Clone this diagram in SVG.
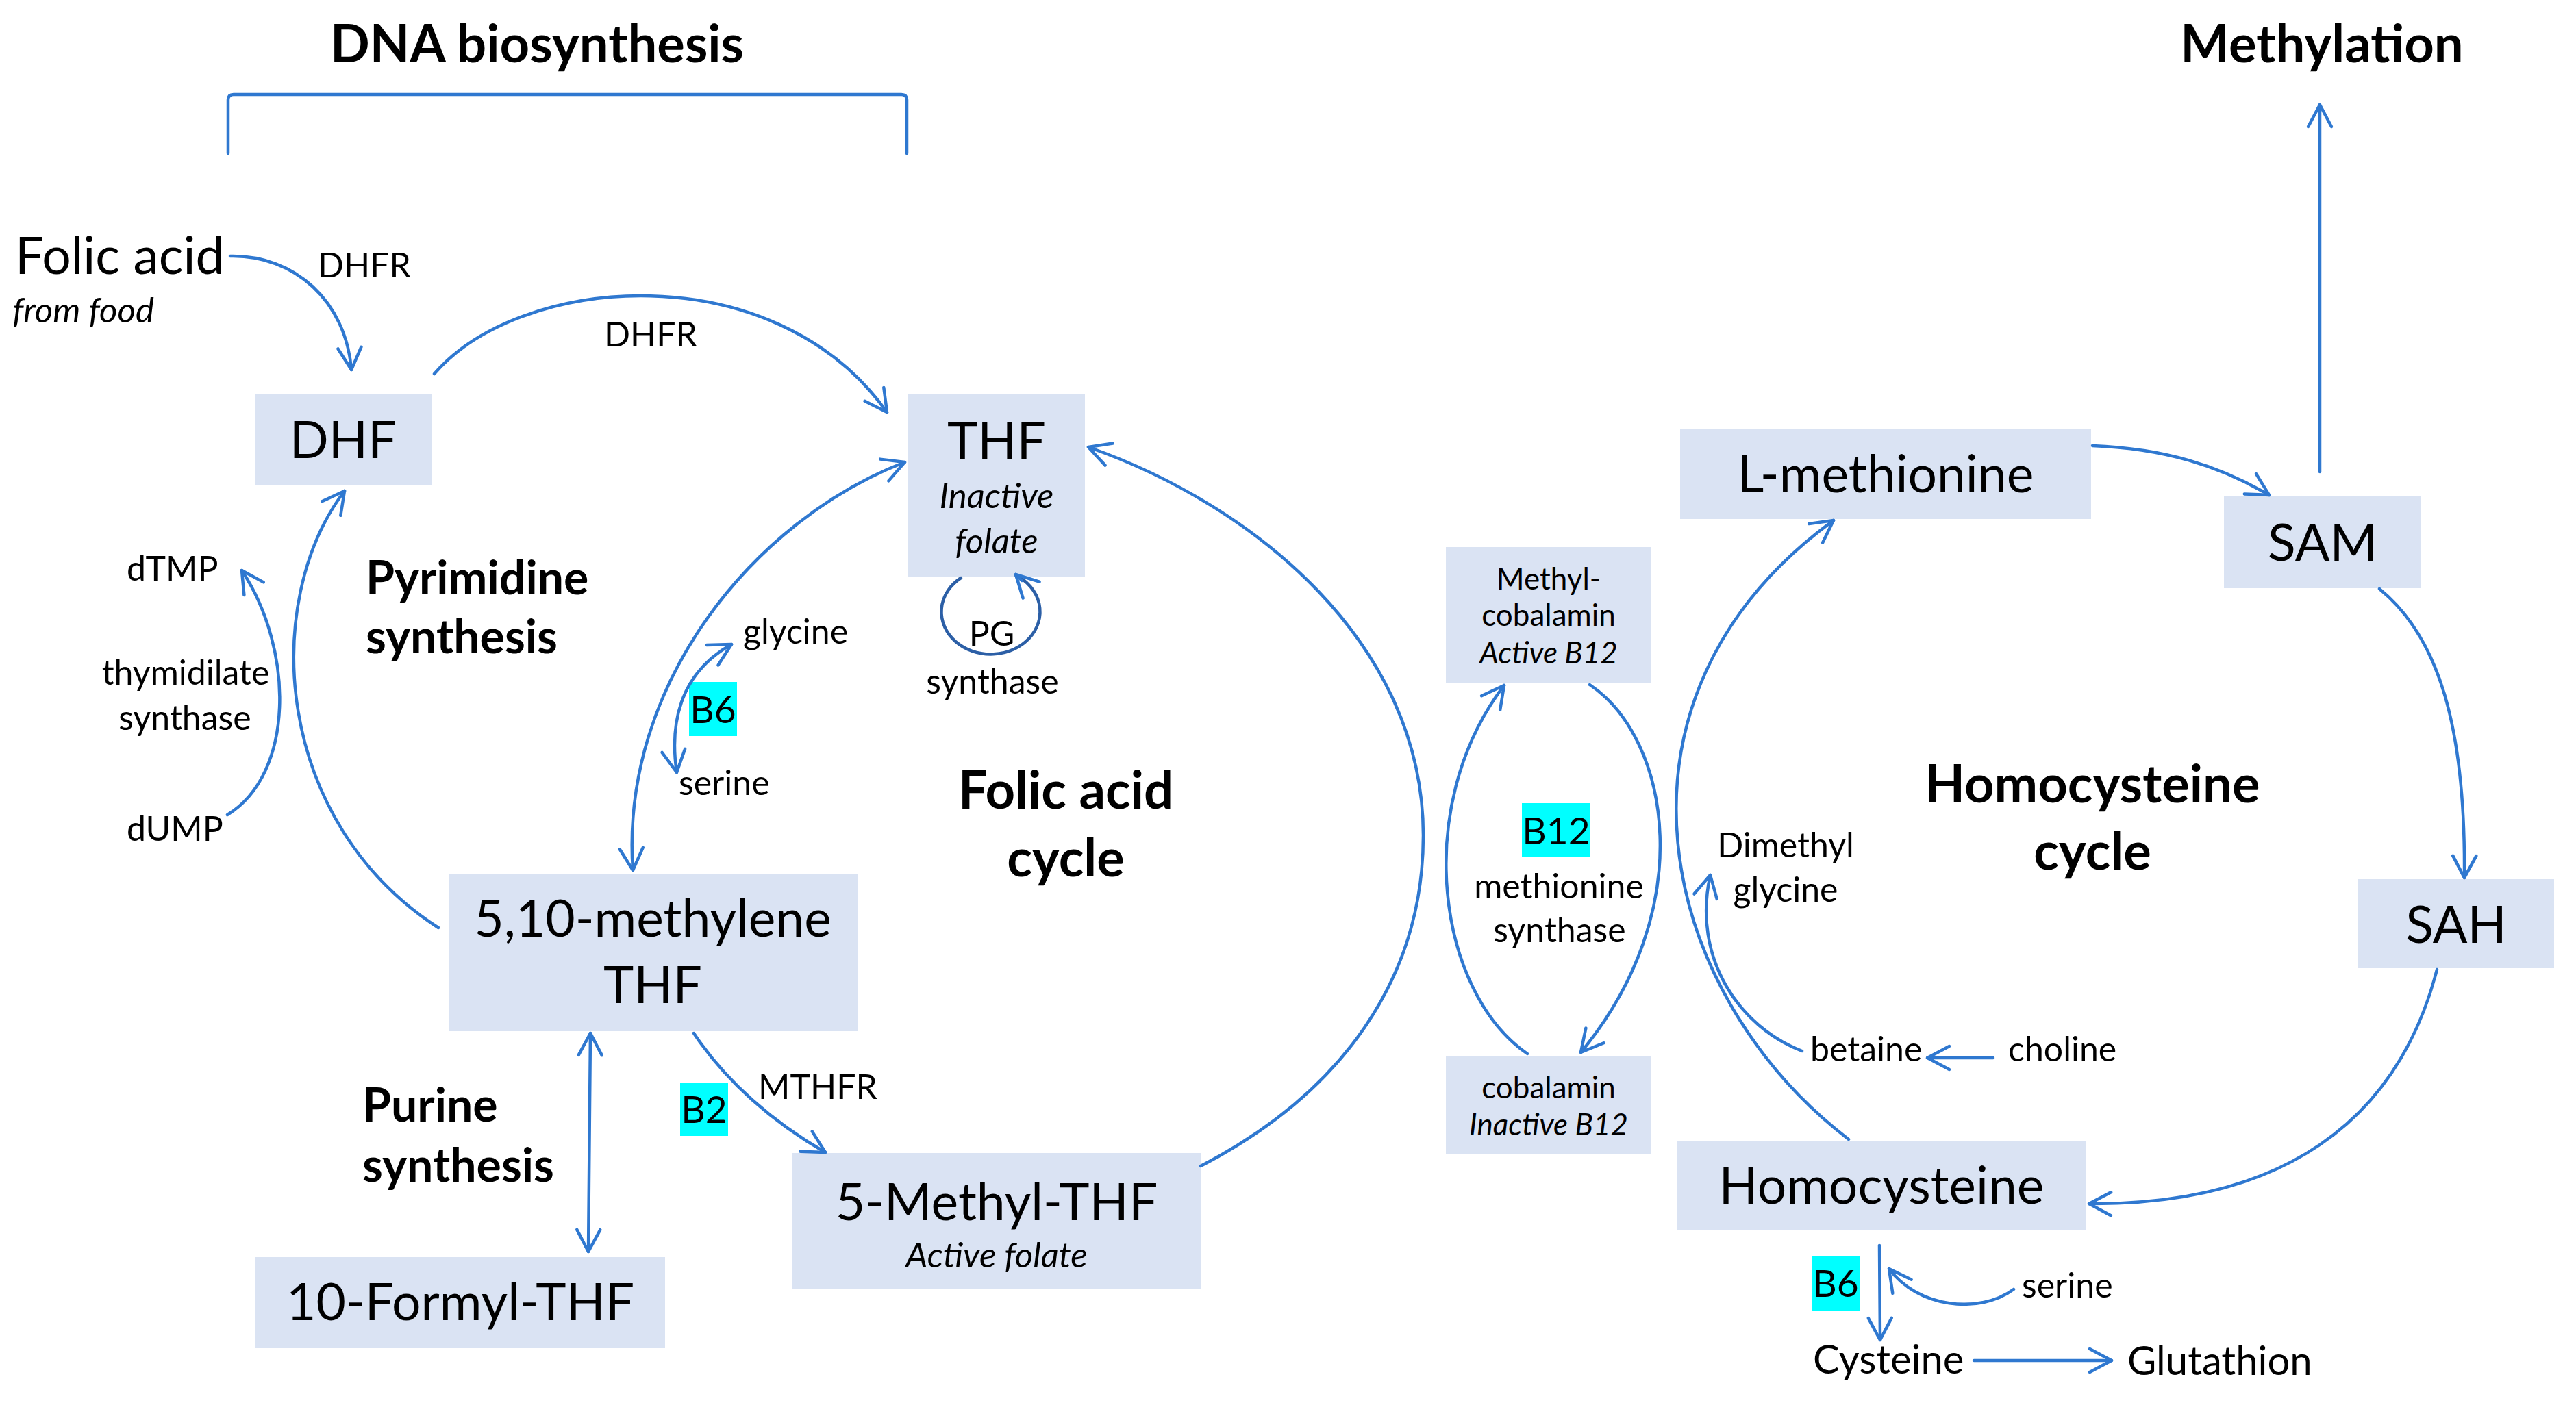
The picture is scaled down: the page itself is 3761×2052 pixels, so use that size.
<svg xmlns="http://www.w3.org/2000/svg" width="3761" height="2052" viewBox="0 0 3761 2052">
<style>
.bg{fill:#ffffff}
.box{fill:#DAE3F3}
.vit{fill:#00FFFF}
.c{fill:none;stroke:#2F78D0;stroke-width:4.5;stroke-linecap:round;stroke-linejoin:round}
.loop{fill:none;stroke:#2C5FA6;stroke-width:4.5;stroke-linecap:round}
text{font-family:Lato,"Open Sans","Liberation Sans",sans-serif;fill:#000}
.big{font-size:75px}
.title{font-size:76px;font-weight:bold}
.sec{font-size:76px;font-weight:bold}
.sec2{font-size:68px;font-weight:bold}
.lab{font-size:50px}
.it{font-size:51px;font-style:italic}
.sm{font-size:44px}
.smi{font-size:44px;font-style:italic}
.vt{font-size:55px}
.mid{text-anchor:middle}
</style>
<defs>
<marker id="ah" viewBox="-40 -25 50 50" markerWidth="50" markerHeight="50" refX="0" refY="0" orient="auto-start-reverse" markerUnits="userSpaceOnUse">
<path d="M -32 -17 L 0 0 L -32 17" fill="none" stroke="#2F78D0" stroke-width="4.5" stroke-linecap="round" stroke-linejoin="round"/>
</marker>
</defs>
<rect class="bg" x="0" y="0" width="3761" height="2052"/>

<g id="labels">
<text class="title mid" x="784" y="91">DNA biosynthesis</text>
<text class="title mid" x="3390" y="91">Methylation</text>
<text class="big" x="22" y="400">Folic acid</text>
<text class="it" x="18" y="471">from food</text>
<text class="lab" x="464" y="405">DHFR</text>
<text class="lab" x="882" y="506">DHFR</text>
<text class="lab" x="185" y="848">dTMP</text>
<text class="lab mid" x="271" y="1000">thymidilate</text>
<text class="lab mid" x="270" y="1066">synthase</text>
<text class="lab" x="185" y="1228">dUMP</text>
<text class="sec2" x="534" y="868">Pyrimidine</text>
<text class="sec2" x="534" y="954">synthesis</text>
<text class="sec2" x="529" y="1638">Purine</text>
<text class="sec2" x="529" y="1726">synthesis</text>
<text class="lab" x="1085" y="940">glycine</text>
<text class="lab" x="991" y="1161">serine</text>
<text class="lab mid" x="1448" y="943">PG</text>
<text class="lab mid" x="1449" y="1013">synthase</text>
<text class="sec mid" x="1556" y="1181">Folic acid</text>
<text class="sec mid" x="1556" y="1280">cycle</text>
<text class="lab" x="1107" y="1605">MTHFR</text>
<text class="lab mid" x="2276" y="1312">methionine</text>
<text class="lab mid" x="2277" y="1376">synthase</text>
<text class="sec mid" x="3055" y="1172">Homocysteine</text>
<text class="sec mid" x="3055" y="1270">cycle</text>
<text class="lab mid" x="2607" y="1252">Dimethyl</text>
<text class="lab mid" x="2607" y="1317">glycine</text>
<text class="lab" x="2643" y="1550">betaine</text>
<text class="lab" x="2932" y="1550">choline</text>
<text class="lab" x="2952" y="1895">serine</text>
<text class="vt" x="2647" y="2006" style="font-size:58px">Cysteine</text>
<text class="vt" x="3106" y="2008" style="font-size:58px">Glutathion</text>
</g>

<g id="vitamins">
<g id="b6-top"><rect class="vit" x="1006" y="996" width="70" height="79"/><text class="vt mid" x="1041" y="1056">B6</text></g>
<g id="b2"><rect class="vit" x="993" y="1581" width="70" height="78"/><text class="vt mid" x="1028" y="1640">B2</text></g>
<g id="b12"><rect class="vit" x="2222" y="1173" width="100" height="79"/><text class="vt mid" x="2272" y="1233">B12</text></g>
<g id="b6-bottom"><rect class="vit" x="2646" y="1835" width="69" height="80"/><text class="vt mid" x="2680" y="1894">B6</text></g>
</g>

<g id="node-dhf"><rect class="box" x="372" y="576" width="259" height="132"/><text class="big mid" x="501" y="669">DHF</text></g>
<g id="node-thf"><rect class="box" x="1326" y="576" width="258" height="266"/><text class="big mid" x="1455" y="670">THF</text><text class="it mid" x="1455" y="742">Inactive</text><text class="it mid" x="1455" y="808">folate</text></g>
<g id="node-methylene"><rect class="box" x="655" y="1276" width="597" height="230"/><text class="big mid" x="953" y="1368">5,10-methylene</text><text class="big mid" x="953" y="1465">THF</text></g>
<g id="node-formyl"><rect class="box" x="373" y="1836" width="598" height="133"/><text class="big mid" x="672" y="1928">10-Formyl-THF</text></g>
<g id="node-methylthf"><rect class="box" x="1156" y="1684" width="598" height="199"/><text class="big mid" x="1455" y="1782">5-Methyl-THF</text><text class="it mid" x="1455" y="1851">Active folate</text></g>
<g id="node-methylcobalamin"><rect class="box" x="2111" y="799" width="300" height="198"/><text class="sm mid" x="2261" y="861">Methyl-</text><text class="sm mid" x="2261" y="914">cobalamin</text><text class="smi mid" x="2261" y="969">Active B12</text></g>
<g id="node-cobalamin"><rect class="box" x="2111" y="1542" width="300" height="143"/><text class="sm mid" x="2261" y="1604">cobalamin</text><text class="smi mid" x="2261" y="1658">Inactive B12</text></g>
<g id="node-lmethionine"><rect class="box" x="2453" y="627" width="600" height="131"/><text class="big mid" x="2753" y="719">L-methionine</text></g>
<g id="node-sam"><rect class="box" x="3247" y="725" width="288" height="134"/><text class="big mid" x="3391" y="819">SAM</text></g>
<g id="node-sah"><rect class="box" x="3443" y="1284" width="286" height="130"/><text class="big mid" x="3586" y="1377">SAH</text></g>
<g id="node-homocysteine"><rect class="box" x="2449" y="1666" width="597" height="131"/><text class="big mid" x="2747" y="1758">Homocysteine</text></g>

<g id="connectors">
<path class="c" d="M 333 224 L 333 146 Q 333 138 341 138 L 1316 138 Q 1324 138 1324 146 L 1324 224"/>
<path class="c" marker-end="url(#ah)" d="M 336 374 C 430 372 505 440 513 540"/>
<path class="c" marker-end="url(#ah)" d="M 634 546 C 760 400 1130 370 1295 602"/>
<path class="c" marker-end="url(#ah)" d="M 640 1355 C 400 1200 380 880 503 717"/>
<path class="c" marker-end="url(#ah)" d="M 332 1190 C 430 1130 430 950 353 833"/>
<path class="c" marker-start="url(#ah)" marker-end="url(#ah)" d="M 924 1271 C 905 1000 1100 760 1321 675"/>
<path class="c" marker-start="url(#ah)" marker-end="url(#ah)" d="M 988 1128 C 978 1060 990 985 1068 941"/>
<path class="c" marker-start="url(#ah)" marker-end="url(#ah)" d="M 862 1509 L 859 1828"/>
<path class="c" marker-end="url(#ah)" d="M 1013 1509 C 1060 1580 1130 1640 1205 1683"/>
<path class="c" marker-end="url(#ah)" d="M 1753 1703 C 1958 1597 2078 1430 2078 1220 C 2078 940 1832 738 1589 653"/>
<path class="loop" d="M 1403 844 A 72 62 0 1 0 1483 840"/>
<path class="c" marker-end="url(#ah)" d="M 1492 848 L 1483 839"/>
<path class="c" marker-end="url(#ah)" d="M 2230 1539 C 2100 1450 2060 1180 2196 1001"/>
<path class="c" marker-end="url(#ah)" d="M 2321 1000 C 2440 1080 2480 1330 2308 1537"/>
<path class="c" marker-end="url(#ah)" d="M 2699 1664 C 2420 1450 2320 1020 2677 760"/>
<path class="c" marker-end="url(#ah)" d="M 2631 1535 C 2540 1500 2470 1400 2497 1278"/>
<path class="c" marker-end="url(#ah)" d="M 2910 1545 L 2814 1545"/>
<path class="c" marker-end="url(#ah)" d="M 3055 651 C 3160 655 3240 680 3313 723"/>
<path class="c" marker-end="url(#ah)" d="M 3387 689 L 3387 153"/>
<path class="c" marker-end="url(#ah)" d="M 3474 860 C 3560 930 3600 1060 3598 1282"/>
<path class="c" marker-end="url(#ah)" d="M 3558 1416 C 3500 1640 3330 1760 3050 1758"/>
<path class="c" marker-end="url(#ah)" d="M 2744 1819 L 2745 1957"/>
<path class="c" marker-end="url(#ah)" d="M 2940 1883 C 2890 1920 2800 1910 2758 1853"/>
<path class="c" marker-end="url(#ah)" d="M 2882 1987 L 3083 1987"/>
</g>
</svg>
